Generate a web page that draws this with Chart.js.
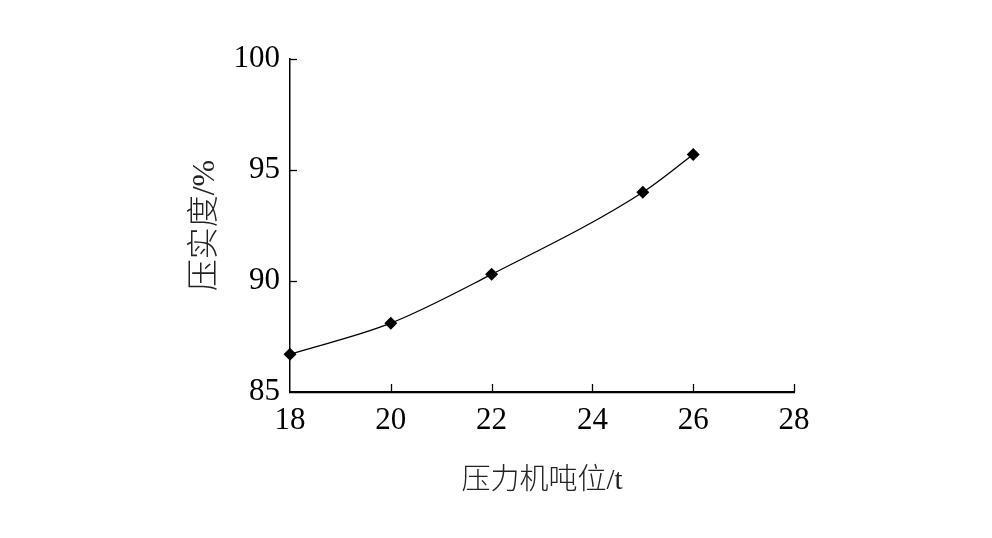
<!DOCTYPE html>
<html>
<head>
<meta charset="utf-8">
<script src="https://cdn.jsdelivr.net/npm/chart.js@4/dist/chart.umd.min.js"></script>
<style>
html,body{margin:0;padding:0;background:#fff;}
#wrap{width:992px;height:538px;}
</style>
</head>
<body>
<div id="wrap"><canvas id="c" width="992" height="538"></canvas></div>
<script>
const tonnage = [18, 20, 22, 25, 26];
const compaction = [86.7, 88.1, 90.3, 94.0, 95.7];
const xTicks = [18, 20, 22, 24, 26, 28];
const yTicks = [85, 90, 95, 100];
const xTitle = '压力机吨位/t';
const yTitle = '压实度/%';

const serif = "'Liberation Serif', 'Times New Roman', serif";
const cjk = "'Liberation Serif', 'Noto Sans CJK SC', serif";

const inwardTicks = {
  id: 'inwardTicks',
  afterDraw(chart) {
    const ctx = chart.ctx;
    const xs = chart.scales.x, ys = chart.scales.y;
    ctx.save();
    ctx.strokeStyle = '#000';
    ctx.lineWidth = 1.3;
    xs.ticks.forEach((t, i) => {
      if (i === 0) return;
      const px = Math.round(xs.getPixelForTick(i)) + 0.5;
      ctx.beginPath();
      ctx.moveTo(px, ys.bottom);
      ctx.lineTo(px, ys.bottom - 8);
      ctx.stroke();
    });
    ys.ticks.forEach((t, i) => {
      if (t.value === 85) return;
      const py = Math.round(ys.getPixelForTick(i)) + 0.5;
      ctx.beginPath();
      ctx.moveTo(xs.left, py);
      ctx.lineTo(xs.left + 7, py);
      ctx.stroke();
    });
    ctx.restore();
  }
};

new Chart(document.getElementById('c'), {
  type: 'line',
  data: {
    datasets: [{
      data: tonnage.map((x, i) => ({x: x, y: compaction[i]})),
      borderColor: '#000',
      backgroundColor: '#000',
      borderWidth: 1.3,
      pointStyle: 'rectRot',
      pointRadius: 6.5,
      pointBorderWidth: 0,
      cubicInterpolationMode: 'monotone',
      clip: false,
      fill: false
    }]
  },
  options: {
    responsive: false,
    animation: false,
    devicePixelRatio: 1,
    layout: {padding: {left: 170, right: 198, top: 59, bottom: 0}},
    plugins: {legend: {display: false}, tooltip: {enabled: false}},
    scales: {
      x: {
        type: 'linear',
        min: 18, max: 28,
        afterBuildTicks: s => { s.ticks = xTicks.map(v => ({value: v})); },
        afterFit: s => { s.height = 538 - 392; },
        grid: {display: true, drawOnChartArea: false, drawTicks: false, color: '#000'},
        border: {display: true, color: '#000', width: 2.2},
        ticks: {color: '#000', padding: 10, font: {family: serif, size: 31}, maxRotation: 0, autoSkip: false},
        title: {display: true, text: xTitle, color: '#222', font: {family: cjk, size: 29, weight: 300}, padding: {top: 0, bottom: 39}}
      },
      y: {
        type: 'linear',
        min: 85, max: 100,
        afterBuildTicks: s => { s.ticks = yTicks.map(v => ({value: v})); },
        afterFit: s => { s.width = 290 - 170; },
        grid: {display: true, drawOnChartArea: false, drawTicks: false, color: 'rgba(0,0,0,0)'},
        border: {display: true, color: '#000', width: 1.5},
        ticks: {color: '#000', padding: 10, font: {family: serif, size: 31}},
        title: {display: true, text: yTitle, color: '#222', font: {family: cjk, size: 32, weight: 300}, padding: {top: 16, bottom: 0}}
      }
    }
  },
  plugins: [inwardTicks]
});
</script>
</body>
</html>
